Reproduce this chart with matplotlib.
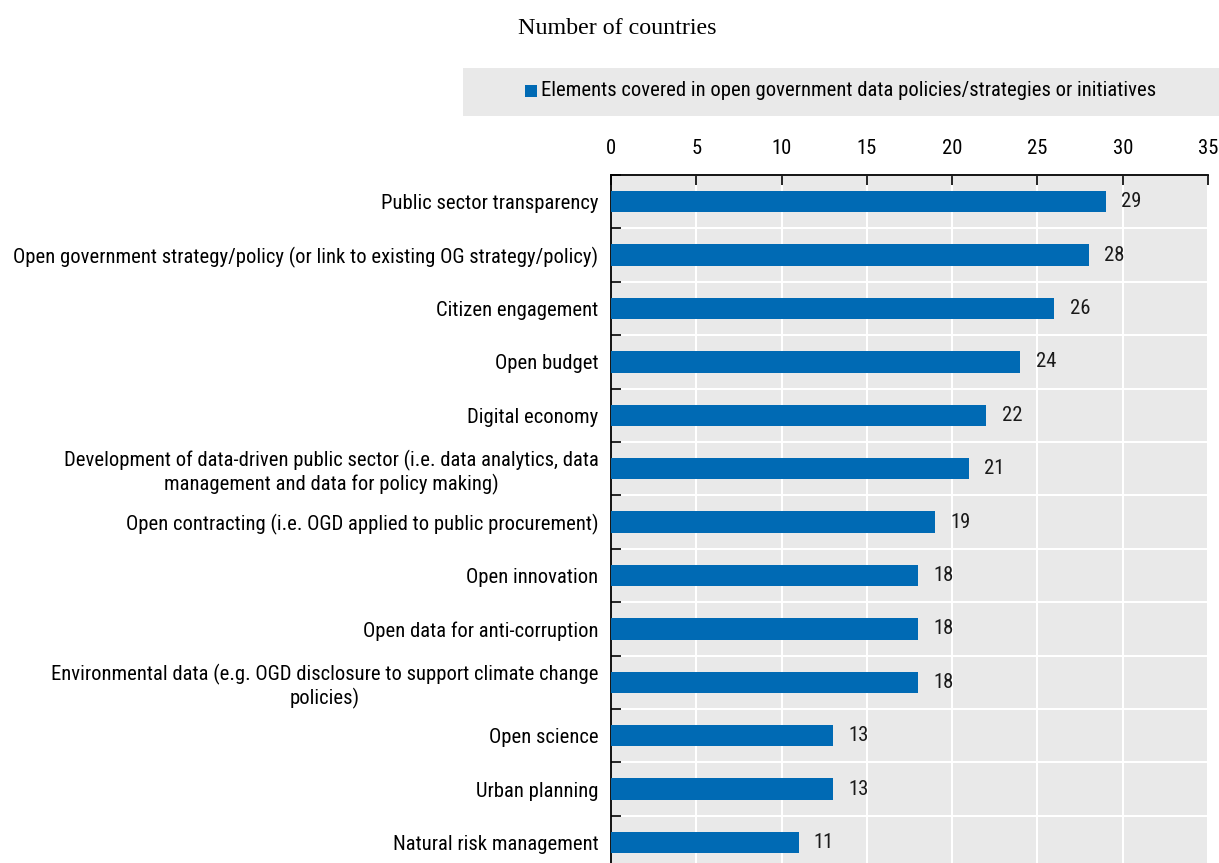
import matplotlib
matplotlib.use("Agg")
import matplotlib.pyplot as plt
from matplotlib.patches import Rectangle
import numpy as np

categories = [
    "Public sector transparency",
    "Open government strategy/policy (or link to existing OG strategy/policy)",
    "Citizen engagement",
    "Open budget",
    "Digital economy",
    "Development of data-driven public sector (i.e. data analytics, data\nmanagement and data for policy making)",
    "Open contracting (i.e. OGD applied to public procurement)",
    "Open innovation",
    "Open data for anti-corruption",
    "Environmental data (e.g. OGD disclosure to support climate change\npolicies)",
    "Open science",
    "Urban planning",
    "Natural risk management",
]
values = [29, 28, 26, 24, 22, 21, 19, 18, 18, 18, 13, 13, 11]
xticks = [0, 5, 10, 15, 20, 25, 30, 35]
series_name = "Elements covered in open government data policies/strategies or initiatives"
title = "Number of countries"

plt.rcParams['font.family'] = ['Roboto Condensed', 'DejaVu Sans']
FS = 14.9

BAR = '#006ab4'
BG = '#e9e9e9'
W, H = 1219, 863
fig = plt.figure(figsize=(W/100, H/100), dpi=100)

# axes geometry in pixels
x0, x1 = 611, 1208
y_top = 175
step = 53.4
n = len(categories)
y_bot = y_top + step * n
ax = fig.add_axes([x0/W, (H - y_bot)/H, (x1 - x0)/W, (y_bot - y_top)/H])
ax.set_facecolor(BG)

ypos = np.arange(n)
ax.barh(ypos, values, height=0.4, color=BAR, zorder=3)
ax.set_xlim(0, 35)
ax.set_ylim(n - 0.5, -0.5)

ax.xaxis.tick_top()
ax.set_xticks(xticks)
ax.set_xticklabels([str(t) for t in xticks], fontsize=FS)
ax.tick_params(axis='x', direction='in', length=7, width=1.2, color='black', pad=12)
ax.set_yticks(ypos)
ax.set_yticklabels(categories, fontsize=FS, multialignment='center', linespacing=1.2)
ax.tick_params(axis='y', which='major', length=0, pad=9)
ax.set_yticks(np.arange(n + 1) - 0.5, minor=True)
ax.tick_params(axis='y', which='minor', direction='in', length=7, width=1.2, color='black')

ax.grid(axis='x', color='white', linewidth=1.5, zorder=1)
ax.grid(axis='y', which='minor', color='white', linewidth=1.5, zorder=1)
ax.set_axisbelow(True)

for s in ['right', 'bottom']:
    ax.spines[s].set_visible(False)
for s in ['top', 'left']:
    ax.spines[s].set_linewidth(1.3)
    ax.spines[s].set_color('black')

for y, v in zip(ypos, values):
    ax.annotate(str(v), (v, y), xytext=(11, 0), textcoords='offset points',
                va='center', ha='left', fontsize=FS, color='#1a1a1a')

# title
fig.text(617/W, 1 - 28/H, title, ha='center', va='center', fontsize=17.3,
         family=['Liberation Serif', 'DejaVu Serif'])

# legend box
fig.patches.append(Rectangle((463/W, 1 - 116/H), (W - 463)/W, 48/H,
                             transform=fig.transFigure, facecolor=BG, edgecolor='none'))
fig.patches.append(Rectangle((525/W, 1 - 97/H), 12/W, 12/H,
                             transform=fig.transFigure, facecolor=BAR, edgecolor='none'))
fig.text(541/W, 1 - 91/H, series_name, ha='left', va='center', fontsize=FS)

fig.savefig("out.png", dpi=100)
